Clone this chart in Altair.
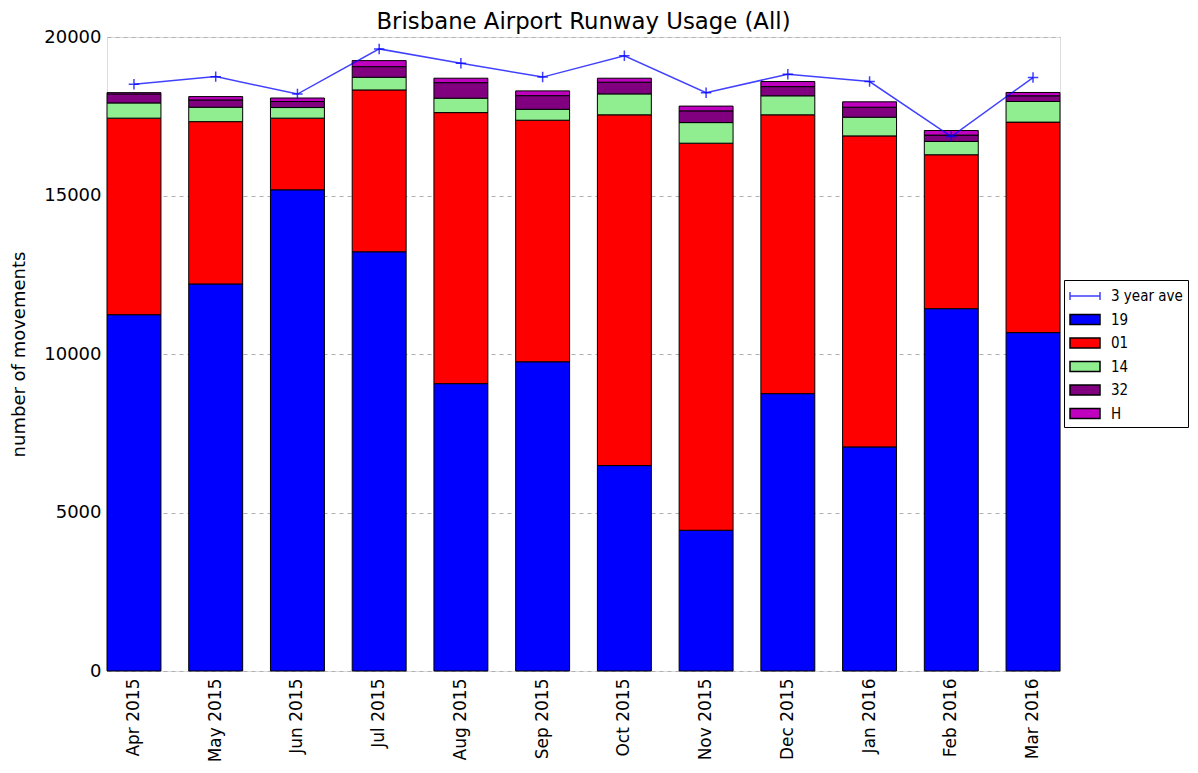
import altair as alt
import pandas as pd

months = ["Apr 2015", "May 2015", "Jun 2015", "Jul 2015", "Aug 2015", "Sep 2015",
          "Oct 2015", "Nov 2015", "Dec 2015", "Jan 2016", "Feb 2016", "Mar 2016"]
r19 = [11240, 12210, 15180, 13225, 9065, 9755, 6480, 4440, 8750, 7070, 11430, 10675]
r01 = [6200, 5120, 2260, 5105, 8550, 7620, 11065, 12210, 8795, 9810, 4855, 6640]
r14 = [480, 455, 335, 400, 455, 345, 660, 650, 600, 590, 420, 650]
r32 = [285, 230, 190, 335, 490, 430, 370, 370, 290, 315, 200, 180]
rH = [40, 105, 110, 190, 140, 150, 125, 150, 160, 170, 145, 105]
ave3 = [18510, 18750, 18200, 19625, 19175, 18735, 19405, 18245, 18825, 18595, 16860, 18720]

runways = ["19", "01", "14", "32", "H"]
series = [r19, r01, r14, r32, rH]
legend_domain = ["3 year ave"] + runways
legend_colors = ["#0000ff", "#0000ff", "#ff0000", "#90ee90", "#800080", "#bf00bf"]
y_ticks = [0, 5000, 10000, 15000, 20000]

rows = []
for ri, (rw, vals) in enumerate(zip(runways, series)):
    for m, v in zip(months, vals):
        rows.append({"month": m, "runway": rw, "movements": v, "order": ri})
bars_df = pd.DataFrame(rows)
line_df = pd.DataFrame({"month": months, "ave": ave3})

FONT = "DejaVu Sans"

x_enc = alt.X("month:N", sort=months, title=None,
              scale=alt.Scale(paddingInner=0.34, paddingOuter=0),
              axis=alt.Axis(labelAngle=270, labelFontSize=17, labelColor="black",
                            labelFont=FONT, ticks=False, domain=False, grid=False,
                            labelPadding=7))

bars = alt.Chart(bars_df).mark_bar(stroke="black", strokeWidth=1).encode(
    x=x_enc,
    y=alt.Y("sum(movements):Q", title="number of movements",
            scale=alt.Scale(domain=[0, 20000], nice=False),
            axis=alt.Axis(values=y_ticks, format="d", labelFontSize=18,
                          labelColor="black", labelFont=FONT, ticks=False, domain=False,
                          grid=True, gridDash=[4, 4], gridColor="#b0b0b0",
                          titleFontSize=18, titleFont=FONT, titleFontWeight="normal",
                          titleColor="black", labelPadding=6, titlePadding=15)),
    color=alt.Color("runway:N",
                    scale=alt.Scale(domain=legend_domain, range=legend_colors),
                    legend=alt.Legend(
                        title=None, orient="none", legendX=957, legendY=243,
                        strokeColor="black", fillColor="white", padding=5,
                        labelFont="DejaVu Sans Condensed", labelFontSize=15,
                        labelColor="black", rowPadding=4.5, labelOffset=20,
                        symbolSize=400,
                        symbolType=alt.ExprRef(expr="datum.value == '3 year ave' ? 'M-1,0H2M-1,-0.4V0.4M2,-0.4V0.4' : 'M-1,-0.5H2V0.5H-1Z'"),
                        symbolStrokeColor=alt.ExprRef(expr="datum.value == '3 year ave' ? '#4040ff' : 'black'"),
                        symbolStrokeWidth=1.5)),
    order=alt.Order("order:Q", sort="ascending"),
)

line = alt.Chart(line_df).mark_line(color="#0000ff", opacity=0.75, strokeWidth=1.5).encode(
    x=alt.X("month:N", sort=months),
    y=alt.Y("ave:Q"),
)
pts = alt.Chart(line_df).mark_point(shape="M-1,0H1M0,-1V1", color="#0000ff", filled=False,
                                    size=110, strokeWidth=1.5, opacity=0.75).encode(
    x=alt.X("month:N", sort=months),
    y=alt.Y("ave:Q"),
)

chart = alt.layer(bars, line, pts).properties(
    width=953, height=634,
    title=alt.TitleParams("Brisbane Airport Runway Usage (All)", fontSize=22.8, font=FONT,
                          fontWeight="normal", color="black", offset=0, dy=6),
    autosize=alt.AutoSizeParams(type="none"),
    padding={"left": 99, "top": 29, "right": 130, "bottom": 93},
).configure_view(stroke="black", strokeWidth=1.2).configure(background="white")

chart.save("out.html", embed_options={"renderer": "svg", "actions": False})
